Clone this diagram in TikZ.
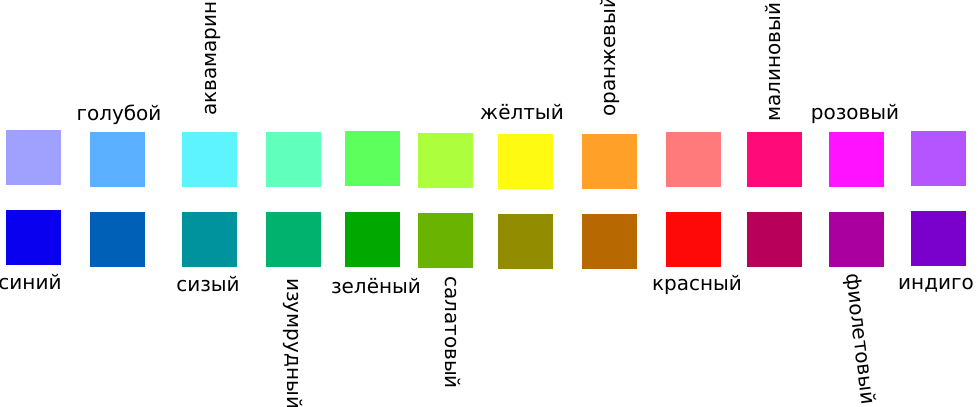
\documentclass[tikz,border=0pt]{standalone}
\usepackage{fontspec}
\setmainfont{DejaVu Sans}
\usetikzlibrary{positioning}
% light row
\definecolor{lightone}{RGB}{160,160,255}
\definecolor{lighttwo}{RGB}{91,176,255}
\definecolor{lightthree}{RGB}{94,244,255}
\definecolor{lightfour}{RGB}{96,255,188}
\definecolor{lightfive}{RGB}{92,255,92}
\definecolor{lightsix}{RGB}{173,255,61}
\definecolor{lightseven}{RGB}{255,250,18}
\definecolor{lighteight}{RGB}{255,161,40}
\definecolor{lightnine}{RGB}{255,123,123}
\definecolor{lightten}{RGB}{255,10,120}
\definecolor{lighteleven}{RGB}{255,18,255}
\definecolor{lighttwelve}{RGB}{180,85,255}
% dark row
\definecolor{darkone}{RGB}{10,0,240}
\definecolor{darktwo}{RGB}{0,96,184}
\definecolor{darkthree}{RGB}{0,147,158}
\definecolor{darkfour}{RGB}{0,178,109}
\definecolor{darkfive}{RGB}{0,168,0}
\definecolor{darksix}{RGB}{106,179,0}
\definecolor{darkseven}{RGB}{145,140,0}
\definecolor{darkeight}{RGB}{184,104,0}
\definecolor{darknine}{RGB}{255,8,8}
\definecolor{darkten}{RGB}{184,0,90}
\definecolor{darkeleven}{RGB}{170,0,160}
\definecolor{darktwelve}{RGB}{122,0,204}

\begin{document}
\begin{tikzpicture}[x=1pt,y=-1pt,
  swatch/.style={minimum size=55pt,inner sep=0pt,outer sep=0pt},
  colname/.style={inner sep=0pt,font=\fontsize{20}{24}\selectfont}]
\useasboundingbox (0,0) rectangle (978,407);

% top row
\node [swatch,fill=lightone]    (t1)  at (33,157)    {};
\node [swatch,fill=lighttwo]    (t2)  at (117,159)   {};
\node [swatch,fill=lightthree]  (t3)  at (209,159)   {};
\node [swatch,fill=lightfour]   (t4)  at (293,159)   {};
\node [swatch,fill=lightfive]   (t5)  at (372,158.5) {};
\node [swatch,fill=lightsix]    (t6)  at (445,160.5) {};
\node [swatch,fill=lightseven]  (t7)  at (525,161)   {};
\node [swatch,fill=lighteight]  (t8)  at (609,161)   {};
\node [swatch,fill=lightnine]   (t9)  at (693,159)   {};
\node [swatch,fill=lightten]    (t10) at (774.5,159) {};
\node [swatch,fill=lighteleven] (t11) at (856,159)   {};
\node [swatch,fill=lighttwelve] (t12) at (938,158)   {};
% bottom row
\node [swatch,fill=darkone]     (b1)  at (33,237.5)  {};
\node [swatch,fill=darktwo]     (b2)  at (117,239)   {};
\node [swatch,fill=darkthree]   (b3)  at (209,239)   {};
\node [swatch,fill=darkfour]    (b4)  at (293,239)   {};
\node [swatch,fill=darkfive]    (b5)  at (372,239)   {};
\node [swatch,fill=darksix]     (b6)  at (445,240)   {};
\node [swatch,fill=darkseven]   (b7)  at (525,241)   {};
\node [swatch,fill=darkeight]   (b8)  at (609,241)   {};
\node [swatch,fill=darknine]    (b9)  at (693,239)   {};
\node [swatch,fill=darkten]     (b10) at (774.5,239) {};
\node [swatch,fill=darkeleven]  (b11) at (856,239)   {};
\node [swatch,fill=darktwelve]  (b12) at (938,238)   {};

% names above
\node [colname,anchor=base] (goluboy) at (119,120) {голубой};
\node [colname,anchor=base west,rotate=90] (akvamarin) at (216,116) {аквамарин};
\node [colname,anchor=base] (zheltyy) at (522,119) {жёлтый};
\node [colname,anchor=base west,rotate=90] (oranzhevyy) at (615,117) {оранжевый};
\node [colname,anchor=base west,rotate=90] (malinovyy) at (780,122) {малиновый};
\node [colname,anchor=base] (rozovyy) at (855,119) {розовый};

% names below
\node [colname,anchor=base] (siniy) at (30,289) {синий};
\node [colname,anchor=base] (sizyy) at (208,291) {сизый};
\node [colname,anchor=base west,rotate=-90] (izumrudnyy) at (287,278) {изумрудный};
\node [colname,anchor=base] (zelenyy) at (376,293) {зелёный};
\node [colname,anchor=base west,rotate=-90] (salatovyy) at (445,276) {салатовый};
\node [colname,anchor=base] (krasnyy) at (697,290) {красный};
\node [colname,anchor=base west,rotate=-83] (fioletovyy) at (846,274) {фиолетовый};
\node [colname,anchor=base] (indigo) at (936,289) {индиго};
\end{tikzpicture}
\end{document}
